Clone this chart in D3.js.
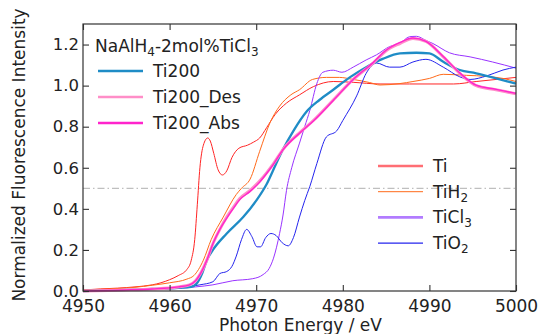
<!DOCTYPE html>
<html>
<head>
<meta charset="utf-8">
<script src="https://cdn.jsdelivr.net/npm/d3@7"></script>
<style>
  body { margin: 0; background: #fff; }
  svg { font-family: "DejaVu Sans", sans-serif; }
</style>
</head>
<body>
<svg id="chart" width="541" height="334"></svg>
<script>
// spectra: [photon energy eV, normalized intensity]
const ti = [[4950,0.005],[4952,0.01],[4954,0.014],[4956,0.02],[4958,0.03],[4959,0.04],[4960,0.055],[4961,0.075],[4962,0.105],[4962.5,0.15],[4962.9,0.25],[4963.2,0.42],[4963.5,0.6],[4963.9,0.71],[4964.4,0.745],[4964.7,0.73],[4965.1,0.67],[4965.6,0.59],[4966.1,0.565],[4966.6,0.585],[4967.2,0.65],[4968,0.695],[4969,0.71],[4969.7,0.725],[4970.4,0.745],[4971.2,0.795],[4972.2,0.86],[4973.5,0.915],[4975,0.955],[4976.6,0.995],[4978.9,1.02],[4981.2,1.016],[4984.3,1.008],[4987.7,1.008],[4992.8,1.008],[4995.4,1.02],[5000,1.04]];
const tih2 = [[4950,0.005],[4953,0.01],[4956,0.018],[4958,0.028],[4960,0.04],[4962,0.058],[4962.8,0.075],[4963.9,0.15],[4964.8,0.25],[4966.2,0.36],[4967.7,0.47],[4968.3,0.5],[4969.3,0.545],[4970.4,0.68],[4971.6,0.82],[4972.7,0.9],[4974,0.955],[4975,0.98],[4976.5,1.03],[4978.1,1.04],[4979.6,1.04],[4981.2,1.03],[4983.1,1.015],[4984.3,1.003],[4986.6,1.01],[4988.1,1.02],[4990,1.035],[4991.6,1.055],[4994.3,1.05],[4996.6,1.045],[4998.5,1.035],[5000,1.02]];
const ticl3 = [[4950,0.0],[4955,0.005],[4960,0.01],[4963,0.02],[4965,0.03],[4967.3,0.05],[4969.6,0.06],[4970.8,0.08],[4971.5,0.11],[4972,0.16],[4972.7,0.28],[4973.1,0.37],[4973.5,0.49],[4974.1,0.6],[4975,0.72],[4975.6,0.8],[4976.2,0.88],[4977,1.01],[4977.7,1.065],[4978.9,1.075],[4979.9,1.065],[4981.2,1.09],[4982.7,1.125],[4983.9,1.15],[4985.4,1.19],[4986.6,1.205],[4987.7,1.238],[4988.5,1.24],[4989.6,1.22],[4990.4,1.205],[4992.3,1.16],[4994.7,1.14],[4997.3,1.115],[5000,1.085]];
const tio2 = [[4950,0.0],[4955,0.005],[4960,0.012],[4963.5,0.03],[4965,0.045],[4965.8,0.085],[4966.6,0.095],[4967.2,0.12],[4967.7,0.17],[4968.3,0.25],[4968.9,0.3],[4969.5,0.265],[4970.1,0.215],[4970.5,0.215],[4971.1,0.26],[4971.7,0.28],[4972.3,0.27],[4973,0.235],[4973.7,0.22],[4974.3,0.26],[4975,0.36],[4975.6,0.44],[4976.2,0.51],[4977,0.62],[4978.1,0.75],[4979.3,0.78],[4980,0.83],[4981.6,0.95],[4982.7,1.06],[4983.9,1.11],[4985.4,1.09],[4986.6,1.09],[4988.1,1.115],[4989.6,1.128],[4991.6,1.09],[4993.5,1.043],[4994.7,1.03],[4996.6,1.047],[4998.5,1.076],[5000,1.09]];
const ti200 = [[4950,0.0],[4955,0.005],[4958,0.01],[4961,0.015],[4962.5,0.02],[4963.1,0.035],[4963.8,0.09],[4964.3,0.15],[4965,0.2],[4966.6,0.28],[4968.5,0.36],[4970,0.44],[4971.2,0.52],[4972.3,0.62],[4973.1,0.69],[4974.3,0.78],[4975.8,0.873],[4977.3,0.93],[4978.9,0.98],[4980.8,1.04],[4982.7,1.09],[4984.6,1.13],[4986.6,1.157],[4988.5,1.16],[4990,1.157],[4991.6,1.116],[4993.5,1.076],[4995.4,1.06],[4997.7,1.035],[5000,1.01]];
const ti200Des = [[4950,0.0],[4955,0.005],[4958,0.01],[4961,0.02],[4962.3,0.03],[4963,0.05],[4963.5,0.08],[4964.3,0.15],[4965,0.23],[4965.8,0.3],[4966.6,0.36],[4967.4,0.41],[4968.1,0.45],[4969.3,0.49],[4970.4,0.535],[4971.2,0.575],[4972,0.62],[4973.1,0.69],[4975,0.77],[4976.6,0.83],[4978.9,0.93],[4981.2,1.03],[4983.5,1.11],[4985,1.17],[4986.6,1.205],[4988.1,1.23],[4989.6,1.215],[4991.6,1.14],[4993.5,1.06],[4995.4,1.0],[4997.7,0.98],[5000,0.96]];
const ti200Abs = [[4950,0.0],[4955,0.005],[4958,0.01],[4961,0.02],[4962.3,0.03],[4963,0.05],[4963.5,0.08],[4964.3,0.15],[4965,0.23],[4965.8,0.3],[4966.6,0.355],[4967.4,0.405],[4968.1,0.445],[4969.3,0.485],[4970.4,0.53],[4971.2,0.572],[4972,0.618],[4973.1,0.688],[4975,0.768],[4976.6,0.828],[4978.9,0.928],[4981.2,1.03],[4983.5,1.112],[4985,1.172],[4986.6,1.21],[4988.1,1.232],[4989.6,1.215],[4991.6,1.142],[4993.5,1.062],[4995.4,1.002],[4997.7,0.982],[5000,0.962]];

const xTicks = [4950, 4960, 4970, 4980, 4990, 5000];
const yTicks = [0.0, 0.2, 0.4, 0.6, 0.8, 1.0, 1.2];

const svg = d3.select("#chart");
const plotLeft = 83, plotRight = 516, plotTop = 24, plotBottom = 291;

const x = d3.scaleLinear().domain([4950, 5000]).range([plotLeft, plotRight]);
const y = d3.scaleLinear().domain([0, 1.3]).range([plotBottom, plotTop]);

// reference line at 0.5
svg.append("line")
  .attr("x1", x(4950)).attr("x2", x(5000))
  .attr("y1", y(0.5)).attr("y2", y(0.5))
  .attr("stroke", "#b0b0b0").attr("stroke-width", 1)
  .attr("stroke-dasharray", "7,3,1.5,3");

const line = d3.line()
  .x(d => x(d[0]))
  .y(d => y(d[1]))
  .curve(d3.curveMonotoneX);

const plot = svg.append("g");
// drawing order: references first, samples on top
const series = [
  {data: ti, color: "#ff2424", w: 1},
  {data: tih2, color: "#ff6a1a", w: 1},
  {data: ticl3, color: "#9933ff", w: 1},
  {data: tio2, color: "#2424ee", w: 1},
  {data: ti200, color: "#1f8cc6", w: 2.3},
  {data: ti200Des, color: "#ff8ec8", w: 3},
  {data: ti200Abs, color: "#ff24cc", w: 1.4}
];
series.forEach(s => {
  plot.append("path")
    .datum(s.data)
    .attr("fill", "none")
    .attr("stroke", s.color)
    .attr("stroke-width", s.w)
    .attr("stroke-linejoin", "round")
    .attr("d", line);
});

// axes, ticks pointing inward on all four sides
function styleAxis(g, size) {
  g.select(".domain").remove();
  g.selectAll(".tick line").attr("stroke", "#333").attr("stroke-width", 1.1);
  g.selectAll(".tick text").attr("fill", "#222").style("font-size", size + "px")
    .style("font-family", "DejaVu Sans, sans-serif");
}
svg.append("g").attr("transform", `translate(0,${plotBottom})`)
  .call(d3.axisBottom(x).tickValues(xTicks).tickSizeInner(-6).tickSizeOuter(0).tickPadding(9).tickFormat(d3.format("d")))
  .call(styleAxis, 17);
svg.append("g").attr("transform", `translate(0,${plotTop})`)
  .call(d3.axisTop(x).tickValues(xTicks).tickSizeInner(-6).tickSizeOuter(0).tickFormat(""))
  .call(styleAxis, 17);
svg.append("g").attr("transform", `translate(${plotLeft},0)`)
  .call(d3.axisLeft(y).tickValues(yTicks).tickSizeInner(-6).tickSizeOuter(0).tickPadding(4).tickFormat(d3.format(".1f")))
  .call(styleAxis, 16.5);
svg.append("g").attr("transform", `translate(${plotRight},0)`)
  .call(d3.axisRight(y).tickValues(yTicks).tickSizeInner(-6).tickSizeOuter(0).tickFormat(""))
  .call(styleAxis, 17);

svg.append("rect")
  .attr("x", plotLeft).attr("y", plotTop)
  .attr("width", plotRight - plotLeft).attr("height", plotBottom - plotTop)
  .attr("fill", "none").attr("stroke", "#333").attr("stroke-width", 1.2);

// axis titles
svg.append("text")
  .attr("x", (plotLeft + plotRight) / 2 + 1).attr("y", 331)
  .attr("text-anchor", "middle").attr("fill", "#222").style("font-size", "17px")
  .text("Photon Energy / eV");
svg.append("text")
  .attr("transform", "translate(25,155) rotate(-90)")
  .attr("text-anchor", "middle").attr("fill", "#222").style("font-size", "17px")
  .text("Normalized Fluorescence Intensity");

// text with subscripts: parts = [[text, isSub], ...]
function richText(g, xPos, yPos, parts) {
  const t = g.append("text").attr("x", xPos).attr("y", yPos)
    .attr("fill", "#222").style("font-size", "17px");
  let shifted = false;
  parts.forEach(p => {
    const span = t.append("tspan").text(p[0]);
    if (p[1] && !shifted) { span.attr("dy", 4).style("font-size", "12px"); shifted = true; }
    else if (p[1]) { span.style("font-size", "12px"); }
    else if (shifted) { span.attr("dy", -4); shifted = false; }
  });
}

const legend1 = svg.append("g");
richText(legend1, 95, 52, [["NaAlH", false], ["4", true], ["-2mol%TiCl", false], ["3", true]]);
const legend1Items = [
  {parts: [["Ti200", false]], color: "#1f8cc6", w: 2.6},
  {parts: [["Ti200_Des", false]], color: "#ff8ec8", w: 2.6},
  {parts: [["Ti200_Abs", false]], color: "#ff24cc", w: 2.6}
];
legend1Items.forEach((d, i) => {
  const ly = 71 + i * 26;
  legend1.append("line").attr("x1", 98).attr("x2", 143).attr("y1", ly).attr("y2", ly)
    .attr("stroke", d.color).attr("stroke-width", d.w);
  richText(legend1, 153, ly + 6, d.parts);
});

const legend2 = svg.append("g");
const legend2Items = [
  {parts: [["Ti", false]], color: "#ff6e74", w: 2.6},
  {parts: [["TiH", false], ["2", true]], color: "#ff6a1a", w: 1},
  {parts: [["TiCl", false], ["3", true]], color: "#b27cff", w: 2.6},
  {parts: [["TiO", false], ["2", true]], color: "#2424ee", w: 1.2}
];
legend2Items.forEach((d, i) => {
  const ly = 166 + i * 25.7;
  legend2.append("line").attr("x1", 378).attr("x2", 423).attr("y1", ly).attr("y2", ly)
    .attr("stroke", d.color).attr("stroke-width", d.w);
  richText(legend2, 433, ly + 6, d.parts);
});
</script>
</body>
</html>
